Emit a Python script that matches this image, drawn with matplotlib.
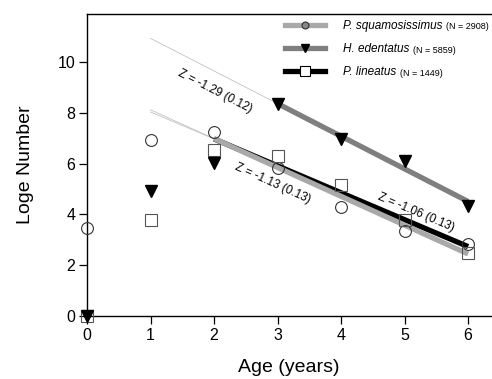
import numpy as np
import matplotlib
matplotlib.use("Agg")
import matplotlib.pyplot as plt
from matplotlib.lines import Line2D

plt.rcParams['font.family'] = ['Liberation Sans', 'DejaVu Sans']

# ---- data ----
ages = [0, 1, 2, 3, 4, 5, 6]
squam = [3.47, 6.93, 7.27, 5.84, 4.28, 3.36, 2.83]   # P. squamosissimus (circles)
edent = [0.0, 4.91, 6.03, 8.35, 6.96, 6.10, 4.35]    # H. edentatus (triangles)
lineat = [0.0, 3.77, 6.53, 6.30, 5.18, 3.79, 2.48]   # P. lineatus (squares)

species = ["P. squamosissimus", "H. edentatus", "P. lineatus"]
counts = ["(N = 2908)", "(N = 5859)", "(N = 1449)"]
fit_start = [2, 3, 2]       # first age used in each regression
z_labels = ["Z = -1.13 (0.13)", "Z = -1.29 (0.12)", "Z = -1.06 (0.13)"]
x_ticks = [0, 1, 2, 3, 4, 5, 6]
y_ticks = [0, 2, 4, 6, 8, 10]

fig = plt.figure(figsize=(4.92, 3.79), dpi=100)
ax = fig.add_axes([87/492, 63/379, 404/492, 302/379])
ax.set_xlim(0, 6.36)
ax.set_ylim(0, 11.9)

ages_a = np.array(ages, float)
series = [np.array(squam), np.array(edent), np.array(lineat)]
line_cols = ['#a9a9a9', '#7f7f7f', '#000000']
thick_z = [4, 3, 2]

fits = []
for s, start, col, z in zip(series, fit_start, line_cols, thick_z):
    m = ages_a >= start
    b1, b0 = np.polyfit(ages_a[m], s[m], 1)
    fits.append((b1, b0))
    xs = np.array([start, 6.0])
    ax.plot(xs, b0 + b1 * xs, color=col, lw=3.8, solid_capstyle='butt', zorder=z)
    xt = np.array([1.0, start])
    ax.plot(xt, b0 + b1 * xt, color='#bdbdbd', lw=0.55, zorder=1)

# markers
ax.plot(ages, squam, 'o', ms=8.5, mfc='none', mec='#333333', mew=0.8,
        zorder=6, clip_on=False, ls='none')
ax.plot(ages, lineat, 's', ms=8, mfc='none', mec='#555555', mew=0.8,
        zorder=6, clip_on=False, ls='none')
ax.plot(ages, edent, 'v', ms=8, color='black', zorder=7, clip_on=False, ls='none')

# Z annotations (positions in data units)
z_pos = [(2.93, 5.22), (2.02, 8.85), (5.18, 4.07)]
for (b1, b0), lab, (tx, ty) in zip(fits, z_labels, z_pos):
    ax.text(tx, ty, lab, fontsize=8.5, ha='center', va='center',
            rotation=np.degrees(np.arctan(b1)), transform_rotates_text=True,
            rotation_mode='anchor', zorder=8)

# axes styling
ax.spines['right'].set_visible(False)
for sp in ['left', 'bottom', 'top']:
    ax.spines[sp].set_linewidth(1.0)
ax.set_xticks(x_ticks)
ax.set_yticks(y_ticks)
ax.tick_params(direction='out', length=5.5, width=0.9, labelsize=11.5, pad=3,
               top=False, right=False)
ax.set_xlabel("Age (years)", fontsize=14, labelpad=12)
ax.set_ylabel("Loge Number", fontsize=14, labelpad=17)

# legend
handles = [
    Line2D([], [], color=line_cols[0], lw=3.8, marker='o', ms=5, mfc='#888888', mec='#333333', mew=0.8),
    Line2D([], [], color=line_cols[1], lw=3.8, marker='v', ms=6, mfc='black', mec='black'),
    Line2D([], [], color=line_cols[2], lw=3.8, marker='s', ms=6.5, mfc='white', mec='black', mew=0.8),
]
leg = ax.legend(handles, species, loc='upper left',
                bbox_to_anchor=((285 - 87) / 404, 1 - 6 / 302),
                frameon=False, borderpad=0, borderaxespad=0,
                handlelength=3.4, handletextpad=1.5, labelspacing=0.95,
                prop={'size': 8.5, 'style': 'italic'})

fig.canvas.draw()
r = fig.canvas.get_renderer()
inv = fig.transFigure.inverted()
for t, c in zip(leg.get_texts(), counts):
    bb = t.get_window_extent(r)
    fx, fy = inv.transform((bb.x1 + 4, bb.y0 + 0.42 * bb.height))
    fig.text(fx, fy, c, fontsize=6.5, ha='left', va='center')

fig.savefig("out.png", dpi=100)
